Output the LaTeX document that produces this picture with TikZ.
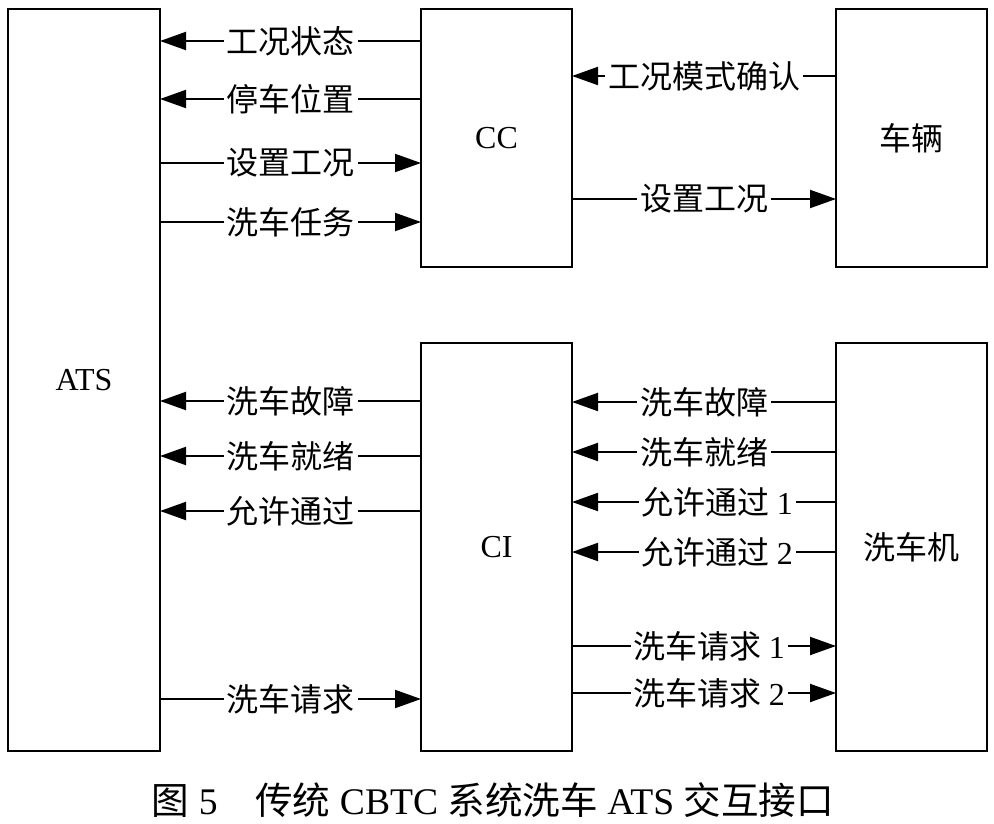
\documentclass[tikz,border=0pt]{standalone}
\usepackage{fontspec}
\setmainfont{Liberation Serif}
\newfontfamily\cjk{Noto Sans CJK SC}
\usetikzlibrary{arrows.meta, positioning}
\tikzset{
    unit/.style={rectangle, draw=black, line width=1.2pt, outer sep=0pt, minimum width=75.5pt, text centered, font=\fontsize{16pt}{18pt}\selectfont},
    signal/.style={line width=1pt, -{Triangle[length=13pt, width=9pt]}},
    tag/.style={fill=white, inner xsep=1.5pt, inner ysep=0pt, font=\cjk\fontsize{16pt}{18pt}\selectfont}
}
\begin{document}
\begin{tikzpicture}[x=0.5pt, y=-0.5pt, node distance=38pt]
        \useasboundingbox (0,0) rectangle (994,823);

        % Nodes
        \node (ats) [unit, minimum width=76pt, minimum height=371pt] at (84,380) {ATS};

        \node (cc) [unit, minimum height=129pt, right=130.5pt of ats.north east, anchor=north west] {CC};

        \node (car) [unit, minimum height=129pt, right=132pt of cc] {\cjk 车辆};

        \node (ci) [unit, minimum height=204pt, below=of cc.south, anchor=north] {CI};

        \node (washer) [unit, minimum height=204pt, below=of car.south, anchor=north] {\cjk 洗车机};

        \node (title) [font=\fontsize{18.8pt}{20pt}\selectfont] at (493,800) {{\cjk 图} 5\hspace{1em}{\cjk 传统} CBTC {\cjk 系统洗车} ATS {\cjk 交互接口}};

        % Arrows ATS - CC
        \draw[signal] (cc.west |- 0,41) -- node[tag] {工况状态} (ats.east |- 0,41);
        \draw[signal] (cc.west |- 0,99) -- node[tag] {停车位置} (ats.east |- 0,99);
        \draw[signal] (ats.east |- 0,163) -- node[tag] {设置工况} (cc.west |- 0,163);
        \draw[signal] (ats.east |- 0,222) -- node[tag] {洗车任务} (cc.west |- 0,222);

        % Arrows CC - car
        \draw[signal] (car.west |- 0,76) -- node[tag] {工况模式确认} (cc.east |- 0,76);
        \draw[signal] (cc.east |- 0,199) -- node[tag] {设置工况} (car.west |- 0,199);

        % Arrows ATS - CI
        \draw[signal] (ci.west |- 0,401) -- node[tag] {洗车故障} (ats.east |- 0,401);
        \draw[signal] (ci.west |- 0,456) -- node[tag] {洗车就绪} (ats.east |- 0,456);
        \draw[signal] (ci.west |- 0,511) -- node[tag] {允许通过} (ats.east |- 0,511);
        \draw[signal] (ats.east |- 0,699) -- node[tag] {洗车请求} (ci.west |- 0,699);

        % Arrows CI - washer
        \draw[signal] (washer.west |- 0,402) -- node[tag] {洗车故障} (ci.east |- 0,402);
        \draw[signal] (washer.west |- 0,452) -- node[tag] {洗车就绪} (ci.east |- 0,452);
        \draw[signal] (washer.west |- 0,502) -- node[tag, pos=0.45] {允许通过 {\rmfamily 1}} (ci.east |- 0,502);
        \draw[signal] (washer.west |- 0,552) -- node[tag, pos=0.45] {允许通过 {\rmfamily 2}} (ci.east |- 0,552);
        \draw[signal] (ci.east |- 0,646) -- node[tag, pos=0.52] {洗车请求 {\rmfamily 1}} (washer.west |- 0,646);
        \draw[signal] (ci.east |- 0,693) -- node[tag, pos=0.52] {洗车请求 {\rmfamily 2}} (washer.west |- 0,693);

    \end{tikzpicture}
\end{document}
